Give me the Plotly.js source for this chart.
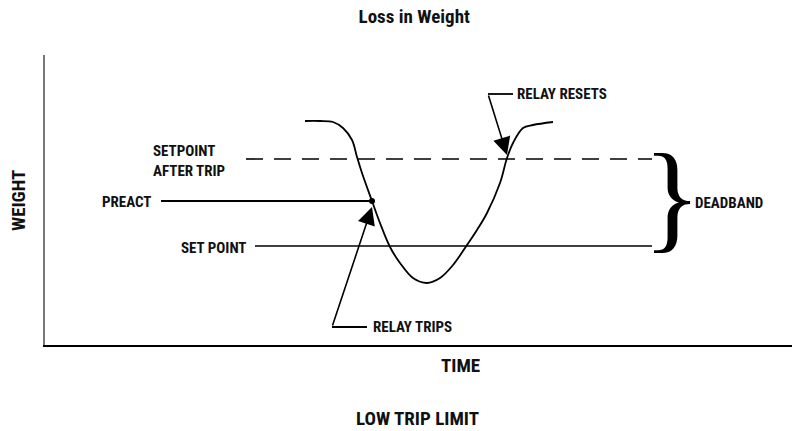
<!DOCTYPE html>
<html>
<head>
<meta charset="utf-8">
<script src="https://cdn.plot.ly/plotly-3.0.1.min.js"></script>
<style>html,body{margin:0;padding:0;background:#fff}#chart{width:792px;height:431px}</style>
</head>
<body>
<div id="chart"></div>
<script>
// ---- data (time / weight units) ----
const curveTime   = [260,275,288,298,307,312,317,327,335,345,355,368,382,395,408,422,432,442,455,462,468,478,488,508];
const curveWeight = [224,224,223,217,205,188,172,144,122,98,82,67,62,67,80,100,115,132,162,187,202,217,220,223];

const setpointAfterTripTime   = [201, 607];
const setpointAfterTripWeight = [186, 186];
const preactTime   = [116, 327];
const preactWeight = [144, 144];
const setPointTime   = [210, 607];
const setPointWeight = [99, 99];

const tripPointTime = [327];
const tripPointWeight = [144];

const relayTripsLeaderTime   = [322, 287];
const relayTripsLeaderWeight = [18, 18];
const relayTripsArrowTail = [287, 18];
const relayTripsArrowTip  = [327, 138];

const relayResetsLeaderTime   = [468, 443];
const relayResetsLeaderWeight = [251, 251];
const relayResetsArrowTail = [443, 251];
const relayResetsArrowTip  = [462, 190];

const labelTexts = {
  title: 'Loss in Weight',
  xTitle: 'TIME',
  yTitle: 'WEIGHT',
  bottom: 'LOW TRIP LIMIT'
};

// ---- styles ----
const NARROW = 'Roboto Condensed, DejaVu Sans Condensed, Liberation Sans Narrow, Liberation Sans, sans-serif';
const lblFont = {family: NARROW, size: 15, color: '#111', weight: 'bold', stretch: 'condensed'};
const bigFont = {family: NARROW, size: 19, color: '#111', weight: 'bold', stretch: 'condensed'};

const traces = [
  {x: curveTime, y: curveWeight, mode: 'lines', line: {color: '#000', width: 1.8, shape: 'spline', smoothing: 1}, hoverinfo: 'skip', cliponaxis: false},
  {x: setpointAfterTripTime, y: setpointAfterTripWeight, mode: 'lines', line: {color: '#000', width: 1.6, dash: '17px,11px'}, hoverinfo: 'skip'},
  {x: preactTime, y: preactWeight, mode: 'lines', line: {color: '#000', width: 1.8}, hoverinfo: 'skip'},
  {x: setPointTime, y: setPointWeight, mode: 'lines', line: {color: '#000', width: 1.5}, hoverinfo: 'skip'},
  {x: tripPointTime, y: tripPointWeight, mode: 'markers', marker: {color: '#000', size: 6}, hoverinfo: 'skip'},
  {x: relayTripsLeaderTime, y: relayTripsLeaderWeight, mode: 'lines', line: {color: '#000', width: 1.8}, hoverinfo: 'skip'},
  {x: relayResetsLeaderTime, y: relayResetsLeaderWeight, mode: 'lines', line: {color: '#000', width: 1.8}, hoverinfo: 'skip'}
];

function arrow(tip, tail) {
  return {x: tip[0], y: tip[1], ax: tail[0], ay: tail[1], xref: 'x', yref: 'y', axref: 'x', ayref: 'y',
    text: '', showarrow: true, arrowhead: 2, arrowsize: 2.2, arrowwidth: 1.6, arrowcolor: '#000', standoff: 0, startstandoff: 0};
}
function label(text, x, y, xanchor, font, extra) {
  return Object.assign({text: text, x: x, y: y, xref: 'x', yref: 'y', xanchor: xanchor, yanchor: 'middle',
    showarrow: false, font: font, align: 'left'}, extra || {});
}
function paperLabel(text, x, y, font, extra) {
  return Object.assign({text: text, x: x, y: y, xref: 'paper', yref: 'paper', xanchor: 'center', yanchor: 'middle',
    showarrow: false, font: font}, extra || {});
}

const layout = {
  width: 792, height: 431,
  margin: {l: 45, r: 0, t: 55, b: 86},
  paper_bgcolor: '#fff', plot_bgcolor: '#fff',
  showlegend: false,
  hovermode: false,
  title: {text: labelTexts.title, x: 0.523, xanchor: 'center', y: 0.962, yanchor: 'middle',
    font: {family: NARROW, size: 19, color: '#111', weight: 'bold', stretch: 'condensed'}},
  xaxis: {range: [0, 747], showline: true, linecolor: '#000', linewidth: 1.6, showgrid: false, zeroline: false,
    showticklabels: false, ticks: '', fixedrange: true},
  yaxis: {range: [0, 290], showline: true, linecolor: '#777', linewidth: 1.6, showgrid: false, zeroline: false,
    showticklabels: false, ticks: '', fixedrange: true},
  annotations: [
    label('SETPOINT<br>AFTER TRIP', 106, 184, 'left', lblFont),
    label('PREACT', 108, 143, 'right', lblFont),
    label('SET POINT', 204, 97, 'right', lblFont),
    label('RELAY TRIPS', 326, 18, 'left', lblFont),
    label('RELAY RESETS', 470, 251, 'left', lblFont),
    label('DEADBAND', 648, 142, 'left', lblFont),
    label('}', 627, 149.5, 'center', {family: 'Liberation Serif, Times New Roman, serif', size: 121, color: '#000'}),
    paperLabel(labelTexts.xTitle, 0.5556, -0.069, bigFont),
    paperLabel(labelTexts.bottom, 0.4993, -0.252, bigFont),
    paperLabel(labelTexts.yTitle, -0.036, 0.5, bigFont, {textangle: -90}),
    arrow(relayTripsArrowTip, relayTripsArrowTail),
    arrow(relayResetsArrowTip, relayResetsArrowTail)
  ]
};

Plotly.newPlot('chart', traces, layout, {displayModeBar: false, staticPlot: true});
</script>
</body>
</html>
